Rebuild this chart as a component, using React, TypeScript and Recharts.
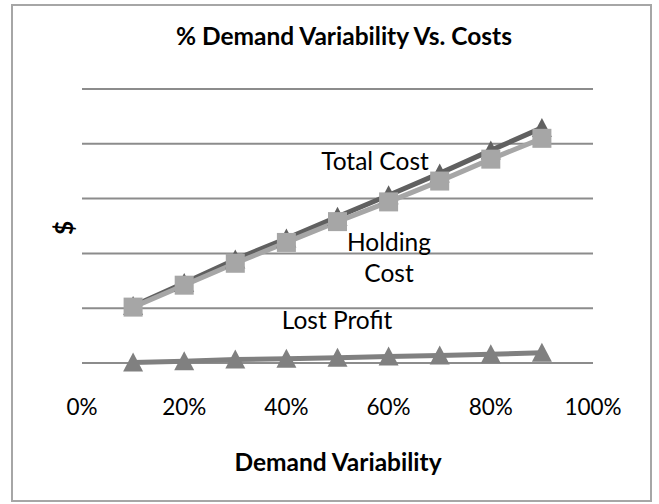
import React from "react";
import {
  LineChart,
  Line,
  XAxis,
  YAxis,
  CartesianGrid,
} from "recharts";

// demand variability (%) on the x axis
const variability = [10, 20, 30, 40, 50, 60, 70, 80, 90];
// in units of one fifth of a gridline band (0-250)
const holdingCost = [51, 71, 91, 110, 129, 147, 166, 186, 205];
const lostProfit = [0.5, 1.6, 3.2, 3.8, 4.7, 5.9, 6.8, 8, 9.3];
const totalCost = [52, 73, 94.5, 113.5, 133.5, 153, 173, 194, 214.5];

const xTicks = [0, 20, 40, 60, 80, 100];
const yTicks = [0, 50, 100, 150, 200, 250];

const data = variability.map((v, i) => ({
  v,
  holding: holdingCost[i],
  lost: lostProfit[i],
  total: totalCost[i],
}));

const FONT = "Lato, 'Open Sans', sans-serif";

const Triangle = (color: string) => (props: any) => {
  const { cx, cy, index } = props;
  if (cx == null || cy == null) return null;
  return (
    <polygon
      key={index}
      points={`${cx},${cy - 10} ${cx + 10},${cy + 9} ${cx - 10},${cy + 9}`}
      fill={color}
    />
  );
};

const Square = (color: string) => (props: any) => {
  const { cx, cy, index } = props;
  if (cx == null || cy == null) return null;
  return (
    <rect key={index} x={cx - 9.5} y={cy - 9.5} width={19} height={19} fill={color} />
  );
};

const label = (text: string, left: number, top: number, extra: React.CSSProperties = {}) => (
  <div
    style={{
      position: "absolute",
      left,
      top,
      transform: "translate(-50%, -50%)",
      whiteSpace: "nowrap",
      fontFamily: FONT,
      fontSize: 24.5,
      color: "#000",
      ...extra,
    }}
  >
    {text}
  </div>
);

export default function App() {
  return (
    <div
      style={{
        position: "absolute",
        left: 0,
        top: 0,
        width: 659,
        height: 504,
        background: "#fff",
      }}
    >
      <div
        style={{
          position: "absolute",
          left: 11,
          top: 4,
          width: 637,
          height: 494,
          border: "2px solid #a6a6a6",
        }}
      />
      <LineChart
        width={659}
        height={504}
        data={data}
        margin={{ top: 89, right: 66, bottom: 111, left: 82 }}
        style={{ position: "absolute", left: 0, top: 0 }}
      >
        <CartesianGrid
          vertical={false}
          stroke="#8c8c8c"
          strokeWidth={2}
        />
        <XAxis
          dataKey="v"
          type="number"
          domain={[0, 100]}
          ticks={xTicks}
          tickFormatter={(t: number) => `${t}%`}
          axisLine={false}
          tickLine={false}
          tickSize={0}
          tickMargin={36}
          height={30}
          interval={0}
          tick={{ fill: "#000", fontSize: 22.5, fontFamily: FONT }}
        />
        <YAxis hide width={0} domain={[0, 250]} ticks={yTicks} />
        <Line
          dataKey="lost"
          stroke="#808080"
          strokeWidth={5}
          dot={Triangle("#808080")}
          isAnimationActive={false}
        />
        <Line
          dataKey="total"
          stroke="#606060"
          strokeWidth={5}
          dot={Triangle("#606060")}
          isAnimationActive={false}
        />
        <Line
          dataKey="holding"
          stroke="#a6a6a6"
          strokeWidth={5}
          dot={Square("#a6a6a6")}
          isAnimationActive={false}
        />
      </LineChart>
      {label("% Demand Variability Vs. Costs", 344, 35, { fontWeight: 700 })}
      {label("Demand Variability", 338, 461, { fontWeight: 700 })}
      {label("$", 63, 228, { fontWeight: 700, transform: "translate(-50%, -50%) rotate(-90deg)" })}
      {label("Total Cost", 375, 160)}
      {label("Holding", 389, 241)}
      {label("Cost", 389, 272)}
      {label("Lost Profit", 337, 319)}
    </div>
  );
}
